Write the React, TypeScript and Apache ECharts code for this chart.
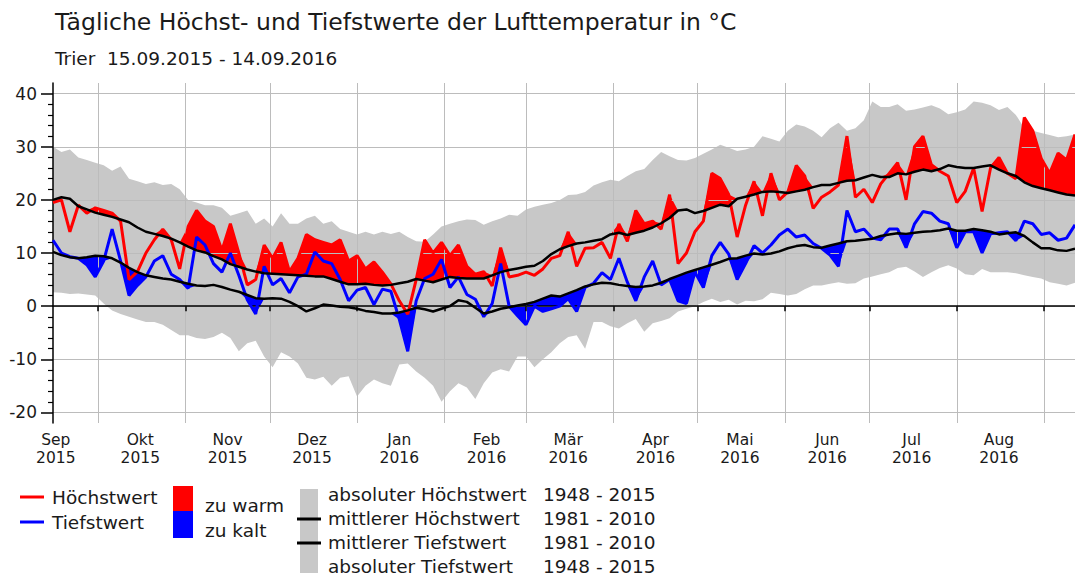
import React, { useEffect, useRef } from "react";
import * as echarts from "echarts";

// ---------- axis / time frame ----------
const START_YEAR = 2015;
const START_MONTH = 8; // September (0-based)
const START_DAY = 15;
const DAY_COUNT = 364; // 15.09.2015 .. 12.09.2016 visible
const STEP = 3; // one sampled value every 3 days
const MONTH_NAMES = ["Jan", "Feb", "Mär", "Apr", "Mai", "Jun", "Jul", "Aug", "Sep", "Okt", "Nov", "Dez"];
const Y_TICKS_MIN = -20;
const Y_TICKS_MAX = 40;
const Y_FRAME_MIN = -22;
const Y_FRAME_MAX = 42;

// ---------- series values (every 3 days, from 15.09.2015) ----------
const hiValues = [
  19.5, 20, 14, 19, 17.5, 18.5, 18, 17.5, 16, 5,
  6.5, 10, 12.5, 14.5, 12.5, 7, 15, 18, 16, 15,
  10.5, 15.5, 10, 4, 5, 11.5, 9, 12, 6.5, 9,
  13.5, 12.5, 12, 11.5, 12.5, 8.5, 9.5, 7, 8.3, 6.4,
  4.2, 1, -1.5, 5, 12.5, 10, 12, 9.5, 11.5, 7.5,
  6, 6.5, 3.8, 11, 5.5, 5.8, 6.4, 5.8, 7, 9,
  9.5, 14, 7.5, 10.9, 11, 12, 9, 15.5, 12.2, 18,
  15.5, 16, 14.5, 21, 8, 10, 14, 16, 25, 24,
  21, 13, 19, 23.5, 17, 25, 20, 21.5, 26.5, 24.5,
  18.4, 20.5, 21.5, 22.8, 32, 20.5, 22, 19.5, 23, 25,
  27, 20, 30, 32, 26.6, 25.4, 24.5, 19.5, 21.6, 26,
  17.8, 26, 28, 25, 24, 35.5, 33, 27.8, 25, 28.8,
  27.5, 32.3,
];

const loValues = [
  12.4, 10, 9.3, 9, 7.8, 5.5, 8.5, 14.5, 8.5, 2,
  3.9, 5.5, 8.5, 9.5, 6, 5, 3.3, 13, 11.5, 8,
  6.4, 10, 5.8, 1.2, -1.5, 7.5, 4, 5.2, 2.5, 5.5,
  6, 10.2, 8.5, 8, 5, 1, 3, 3.5, 0.3, 3.2,
  2.8, -2.5, -8.5, 1, 5.2, 6, 8.8, 3.5, 5.5, 2.2,
  1.3, -2, 0.5, 8, 0, -1.8, -3.5, 0, -1, -0.5,
  0, 1.4, -1, 3.5, 4.3, 6.3, 5, 9, 4.5, 1,
  5.5, 8.5, 4, 5, 1, 0.5, 6.4, 3.5, 9.5, 12,
  9.8, 5, 8, 11.4, 10, 11.5, 13.4, 14.5, 13, 13.4,
  11.8, 10.9, 9.6, 7.5, 18, 14, 14.5, 12.8, 12.5, 14.5,
  14.5, 11, 15.5, 17.8, 17.5, 16, 15.5, 11, 14, 14,
  10, 13.6, 13.8, 14, 12.3, 16, 15.5, 13.5, 13.8, 12.4,
  12.8, 15.3,
];

const meanHiValues = [
  20, 20.5, 20.2, 18.8, 18.2, 17.6, 17.2, 16.8, 16.3, 15.8,
  14.8, 14, 13.6, 13.2, 12.7, 12, 11.2, 10.5, 10.1, 9.4,
  8.8, 7.9, 7.4, 6.9, 6.5, 6.2, 6.1, 6, 5.9, 5.8,
  5.7, 5.6, 5.6, 5.1, 4.6, 4.1, 4.1, 4.2, 4, 3.9,
  4, 4.3, 4.6, 5.1, 4.8, 4.5, 5, 5.5, 5.3, 5.2,
  5.2, 5.2, 5.8, 6.4, 6.8, 7.1, 7.4, 7.6, 8.5, 9.8,
  10.7, 11.3, 11.8, 12, 12.3, 12.6, 13.5, 13.8, 13.4, 13.8,
  14.2, 14.8, 15.6, 16.6, 18, 18.2, 17.5, 17.9, 18.5, 19.1,
  18.8, 20.2, 20.6, 21, 21.5, 21.6, 21.5, 21.3, 21.6, 21.9,
  22.4, 22.8, 22.8, 23.2, 23.6, 23.7, 24.2, 24.7, 24.3, 24.3,
  25, 24.8, 25.3, 25.7, 25.4, 25.8, 26.5, 26.2, 26, 26,
  26.3, 26.5, 25.7, 25, 24.5, 23.3, 22.6, 22.2, 21.8, 21.4,
  21, 20.8,
];

const meanLoValues = [
  10.2, 9.6, 9.2, 9, 9.2, 9.5, 9.4, 9, 8.2, 7.2,
  6.4, 5.8, 5.5, 5.2, 5, 4.6, 4.2, 3.9, 3.8, 4,
  3.6, 3.1, 2.7, 2.1, 1.5, 1.4, 1.5, 1.4, 0.8, 0,
  -1, -0.4, 0.3, 0.1, -0.1, -0.2, -0.5, -0.9, -1.1, -1.4,
  -1.4, -1.2, -0.8, -0.3, -0.6, -1, -0.5, 0, 1.1, 0.8,
  -0.3, -1.4, -1, -0.5, -0.2, 0.1, 0.4, 0.8, 1.4, 2,
  1.8, 2.4, 3, 3.7, 4.1, 4.4, 4.3, 4, 3.8, 3.6,
  3.7, 3.9, 4.4, 5.1, 5.7, 6.3, 6.8, 7.3, 7.8, 8.3,
  8.9, 9, 9.5, 9.9, 9.7, 9.9, 10.3, 10.9, 11.3, 11.5,
  11.1, 11, 11.4, 11.8, 12.2, 12.3, 12.5, 12.7, 13.2, 13.5,
  13.7, 13.6, 13.8, 14, 14.1, 14.3, 14.6, 14.2, 14.2, 14.5,
  14.3, 14, 13.5, 13.7, 13.9, 13.2, 12, 10.9, 10.9, 10.5,
  10.4, 10.8,
];

const absHiValues = [
  30, 29, 29.5, 28, 27.5, 27, 26.5, 25.5, 26.3, 24,
  23.5, 23, 23.3, 22.8, 23, 22, 20, 19.5, 19, 19,
  18.5, 17, 17.5, 18, 15.5, 16.5, 15, 17.5, 15.5, 15.5,
  16.5, 17, 15.5, 16, 14.5, 14, 13.5, 14, 13.5, 14,
  13.6, 14, 13, 12.2, 12.1, 13.5, 15, 15.5, 16, 16.3,
  16.2, 15.3, 16, 16.5, 17.2, 17, 18.2, 18.7, 19.1, 19.4,
  20, 20.9, 21, 21.5, 22.7, 23.3, 23.8, 23.5, 24.5, 25.4,
  25.8, 27.5, 29, 28.2, 27.5, 27.4, 27.9, 28.7, 29.5, 30.4,
  29.8, 29.2, 29.5, 30, 32, 31.5, 31, 33, 34.2, 33.8,
  33, 31.8, 33.5, 34.5, 33, 33.5, 35, 38.5, 37.5, 37.5,
  38, 36.8, 37, 37.4, 37.8, 37.2, 36.1, 36.5, 37, 38.5,
  38.3, 37.8, 36.9, 37.5, 36, 33.5, 33, 32.6, 32.2, 31.8,
  32, 32.3,
];

const absLoValues = [
  2.6, 2.5, 2.3, 2.4, 2.2, 2, 0.5, -0.8, -1.5, -2,
  -2.5, -3, -3, -3.5, -4.5, -5.5, -5.5, -6, -6.2, -5.8,
  -5, -6, -8.5, -7, -6.5, -9.5, -11.5, -8.7, -9.5, -10.8,
  -13.5, -13.8, -13.3, -15, -13.5, -13.2, -17, -15, -13.8, -14.5,
  -15, -11, -10.8, -12.3, -13.5, -15, -18, -16, -14.5, -15.3,
  -17.5, -14.5, -12.5, -11.9, -12.3, -9.5, -9.5, -11.5, -10, -8.7,
  -7, -5.8, -5.5, -8, -3, -3, -3.8, -4.2, -3.2, -2.4,
  -4.8, -3.2, -2.8, -2.3, -1, -0.5, 0, 0.8, 1.4, 0.8,
  1.2, 0.3, 1, 0.9, 1.3, 2.5, 2.3, 2, 2.3, 3.2,
  3.9, 3.9, 4.2, 4.5, 4.2, 4.3, 5.2, 5.6, 6, 6.4,
  7.2, 7.4, 6.5, 5.5, 6.4, 7.2, 7.7, 7.1, 6, 5.8,
  7, 6.4, 6.4, 6.4, 6.2, 5.8, 5.5, 5.2, 4.5, 4.2,
  3.9, 4.4,
];

// ---------- texts ----------
const TITLE = "Tägliche Höchst- und Tiefstwerte der Lufttemperatur in °C";
const SUBTITLE = "Trier  15.09.2015 - 14.09.2016";
const LEGEND_LEFT = ["Höchstwert", "Tiefstwert"];
const LEGEND_MID = ["zu warm", "zu kalt"];
const LEGEND_RIGHT = [
  ["absoluter Höchstwert", "1948 - 2015"],
  ["mittlerer Höchstwert", "1981 - 2010"],
  ["mittlerer Tiefstwert", "1981 - 2010"],
  ["absoluter Tiefstwert", "1948 - 2015"],
];

const FONT = "DejaVu Sans";
const TEXT_COLOR = "#1a1a1a";
const GRID_COLOR = "#bcbcbc";
const BAND_COLOR = "#c8c8c8";

function pad(n: number) {
  return n < 10 ? "0" + n : "" + n;
}

function buildCategories(): string[] {
  const out: string[] = [];
  for (let i = 0; i < DAY_COUNT; i++) {
    const d = new Date(Date.UTC(START_YEAR, START_MONTH, START_DAY + i));
    out.push(d.getUTCFullYear() + "-" + pad(d.getUTCMonth() + 1) + "-" + pad(d.getUTCDate()));
  }
  return out;
}

export default function App() {
  const ref = useRef<HTMLDivElement>(null);

  useEffect(() => {
    if (!ref.current) return;
    const chart = echarts.init(ref.current, null, { renderer: "svg" });
    const categories = buildCategories();
    const idx = hiValues.map((_, i) => i * STEP);
    const pair = (arr: number[]) => arr.map((v, i) => [idx[i], v]);

    const warmDiff = hiValues.map((v, i) => Math.max(0, v - meanHiValues[i]));
    const coldBase = loValues.map((v, i) => Math.min(v, meanLoValues[i]));
    const coldDiff = coldBase.map((v, i) => meanLoValues[i] - v);
    const bandDiff = absHiValues.map((v, i) => v - absLoValues[i]);

    const gridTop = 83;
    const gridH = 340;
    const pxPerDeg = gridH / (Y_FRAME_MAX - Y_FRAME_MIN);
    const grid2Top = gridTop + (Y_FRAME_MAX - Y_TICKS_MAX) * pxPerDeg;
    const grid2H = (Y_TICKS_MAX - Y_TICKS_MIN) * pxPerDeg;

    const isMonthStart = (_i: number, v: string) => v.slice(8) === "01";
    const isMidMonth = (_i: number, v: string) => v.slice(8) === "16";

    const hidden = { width: 0, opacity: 0 };
    const baseSeries = {
      type: "line",
      xAxisIndex: 0,
      yAxisIndex: 0,
      symbol: "none",
      silent: true,
      stackStrategy: "all",
    };

    const txt = (text: string, x: number, y: number, size = 18.5) => ({
      type: "text",
      x,
      y,
      style: {
        text,
        fill: TEXT_COLOR,
        font: `${size}px "${FONT}"`,
        verticalAlign: "middle",
      },
    });

    const graphics: any[] = [
      txt(TITLE, 55, 22, 23.5),
      txt(SUBTITLE, 55, 58, 18.5),
      // left legend block
      { type: "line", shape: { x1: 20, y1: 497, x2: 44, y2: 497 }, style: { stroke: "#ff0000", lineWidth: 3 } },
      txt(LEGEND_LEFT[0], 52, 497),
      { type: "line", shape: { x1: 20, y1: 522, x2: 44, y2: 522 }, style: { stroke: "#0000ff", lineWidth: 3 } },
      txt(LEGEND_LEFT[1], 52, 522),
      // middle legend block
      { type: "rect", shape: { x: 173, y: 486, width: 20, height: 25 }, style: { fill: "#ff0000" } },
      { type: "rect", shape: { x: 173, y: 511, width: 20, height: 27 }, style: { fill: "#0000ff" } },
      txt(LEGEND_MID[0], 205, 505),
      txt(LEGEND_MID[1], 205, 530),
      // right legend block
      { type: "rect", shape: { x: 300, y: 489, width: 18, height: 84 }, style: { fill: BAND_COLOR } },
      { type: "line", shape: { x1: 297, y1: 519, x2: 321, y2: 519 }, style: { stroke: "#000", lineWidth: 3 } },
      { type: "line", shape: { x1: 297, y1: 543, x2: 321, y2: 543 }, style: { stroke: "#000", lineWidth: 3 } },
    ];
    const rowY = [494, 518, 542, 566];
    LEGEND_RIGHT.forEach((row, i) => {
      graphics.push(txt(row[0], 328, rowY[i]));
      graphics.push(txt(row[1], 543, rowY[i]));
    });

    const option: any = {
      animation: false,
      textStyle: { fontFamily: FONT },
      grid: [
        { left: 53, right: 0, top: gridTop, height: gridH },
        { left: 53, right: 0, top: grid2Top, height: grid2H },
      ],
      xAxis: [
        {
          type: "category",
          gridIndex: 0,
          data: categories,
          boundaryGap: false,
          z: 1,
          axisLine: { lineStyle: { color: "#000", width: 1.5 } },
          axisTick: { interval: isMonthStart, length: 5, lineStyle: { color: "#000", width: 1.5 } },
          splitLine: { show: true, interval: isMonthStart, lineStyle: { color: GRID_COLOR, width: 1 } },
          axisLabel: {
            interval: isMidMonth,
            margin: 8,
            fontSize: 15.5,
            lineHeight: 18,
            color: TEXT_COLOR,
            fontFamily: FONT,
            formatter: (v: string) => MONTH_NAMES[parseInt(v.slice(5, 7), 10) - 1] + "\n" + v.slice(0, 4),
          },
        },
        { type: "value", gridIndex: 1, show: false, min: 0, max: 1 },
      ],
      yAxis: [
        {
          type: "value",
          gridIndex: 0,
          min: Y_FRAME_MIN,
          max: Y_FRAME_MAX,
          z: 1,
          axisLine: { show: true, lineStyle: { color: "#000", width: 1.5 } },
          axisTick: { show: false },
          axisLabel: { show: false },
          splitLine: { show: false },
        },
        {
          type: "value",
          gridIndex: 1,
          min: Y_TICKS_MIN,
          max: Y_TICKS_MAX,
          interval: 10,
          z: 1,
          axisLine: { show: false },
          axisTick: { show: true, length: 12, lineStyle: { color: "#000", width: 1.5 } },
          minorTick: { show: true, splitNumber: 5, length: 5, lineStyle: { color: "#000", width: 1.2 } },
          axisLabel: { margin: 16, fontSize: 17, color: TEXT_COLOR, fontFamily: FONT },
          splitLine: { show: true, lineStyle: { color: GRID_COLOR, width: 1 } },
        },
      ],
      graphic: graphics,
      series: [
        { ...baseSeries, name: "absMinBase", stack: "abs", z: 0, data: pair(absLoValues), lineStyle: hidden },
        {
          ...baseSeries,
          name: "absBand",
          stack: "abs",
          z: 0,
          data: pair(bandDiff),
          lineStyle: hidden,
          areaStyle: { color: BAND_COLOR, opacity: 1 },
        },
        { ...baseSeries, name: "warmBase", stack: "warm", z: 0, data: pair(meanHiValues), lineStyle: hidden },
        {
          ...baseSeries,
          name: "zu warm",
          stack: "warm",
          z: 0,
          data: pair(warmDiff),
          lineStyle: hidden,
          areaStyle: { color: "#ff0000", opacity: 1 },
        },
        { ...baseSeries, name: "coldBase", stack: "cold", z: 0, data: pair(coldBase), lineStyle: hidden },
        {
          ...baseSeries,
          name: "zu kalt",
          stack: "cold",
          z: 0,
          data: pair(coldDiff),
          lineStyle: hidden,
          areaStyle: { color: "#0000ff", opacity: 1 },
        },
        {
          type: "line",
          name: "Höchstwert",
          symbol: "none",
          z: 3,
          data: pair(hiValues),
          lineStyle: { color: "#ff0000", width: 3 },
        },
        {
          type: "line",
          name: "Tiefstwert",
          symbol: "none",
          z: 3,
          data: pair(loValues),
          lineStyle: { color: "#0000ff", width: 3 },
        },
        {
          type: "line",
          name: "mittlerer Höchstwert",
          symbol: "none",
          z: 4,
          data: pair(meanHiValues),
          lineStyle: { color: "#000", width: 2.5 },
        },
        {
          type: "line",
          name: "mittlerer Tiefstwert",
          symbol: "none",
          z: 4,
          data: pair(meanLoValues),
          lineStyle: { color: "#000", width: 2.5 },
        },
      ],
    };
    chart.setOption(option);
    return () => chart.dispose();
  }, []);

  return (
    <div
      ref={ref}
      style={{ position: "fixed", left: 0, top: 0, width: 1075, height: 575, background: "#fff" }}
    />
  );
}
